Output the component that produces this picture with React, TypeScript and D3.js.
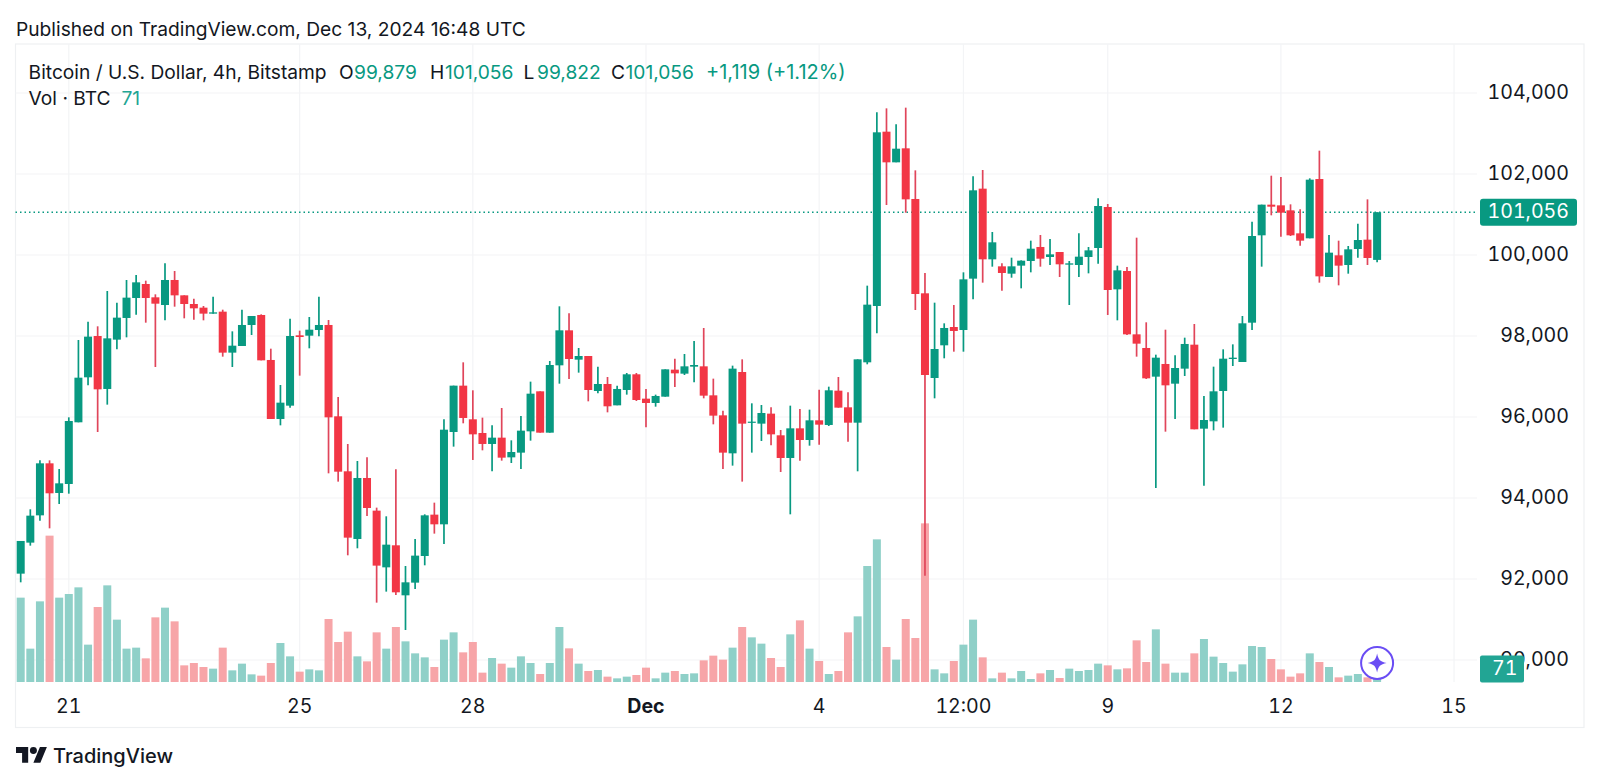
import React, { useEffect, useRef } from "react";
import * as d3 from "d3";

const opens = [
  92132, 92898, 93572, 94856, 94124, 94346, 95869, 96980, 98000, 96692,
  97910, 98445, 98938, 99284, 98955, 98765, 99383, 99004, 98790, 98700,
  98552, 98601, 97589, 97753, 98272, 98519, 97408, 95951, 96280, 98017,
  98008, 98148, 98272, 96017, 94659, 92988, 94494, 93688, 92288, 92832,
  91597, 91910, 92568, 93589, 93350, 95630, 96774, 95943, 95605, 95334,
  95490, 95004, 95120, 95646, 96634, 95613, 97276, 98140, 97416, 97506,
  96642, 96815, 96288, 96667, 97054, 96453, 96346, 96502, 97169, 97070,
  97243, 97251, 96535, 96041, 95103, 97111, 95860, 95836, 96083, 95548,
  94988, 95720, 95432, 95918, 95803, 96650, 96239, 95860, 97350, 98741,
  103045, 102288, 102634, 101383, 99054, 96963, 97770, 98222, 98148, 99416,
  101638, 99893, 99720, 99539, 99737, 99852, 100198, 99951, 100074, 99761,
  99753, 99951, 100173, 101185, 99152, 99605, 98041, 97704, 96996, 97309,
  96823, 97194, 97786, 95712, 95893, 96642, 97432, 97358, 98329, 100486,
  101243, 101226, 101103, 100535, 100412, 101876, 99457, 99992, 99753, 100148,
  100379, 99879,
];
const highs = [
  92939, 93721, 94930, 94930, 94716, 95992, 97901, 98354, 98239, 99111,
  98823, 99383, 99506, 99366, 99029, 99794, 99605, 99004, 98922, 98741,
  98971, 98650, 98115, 98650, 98494, 98535, 97687, 96790, 98428, 98132,
  98469, 98971, 98395, 96494, 95334, 94914, 95004, 93762, 93548, 94708,
  92321, 92988, 93597, 93885, 95943, 96774, 97350, 96659, 95984, 95794,
  96222, 95424, 96025, 96873, 96634, 97383, 98733, 98560, 97704, 97506,
  97243, 96988, 96774, 97087, 97087, 96692, 96552, 97177, 97440, 97556,
  97877, 98198, 96947, 96157, 97268, 97424, 96338, 96296, 96239, 95679,
  96280, 96198, 96181, 96675, 96749, 96988, 96609, 97424, 99243, 103522,
  103621, 103226, 103638, 102090, 99556, 98823, 98313, 98765, 99572, 101942,
  102099, 100568, 99794, 99934, 99868, 100354, 100494, 100395, 100074, 99852,
  100535, 100198, 101399, 101259, 99737, 99704, 100428, 98338, 97539, 98156,
  97523, 97959, 98296, 96519, 97243, 97671, 97794, 98494, 100823, 101243,
  101959, 101926, 101251, 101128, 101893, 102576, 100494, 100354, 100222, 100774,
  101374, 101056,
];
const lows = [
  91918, 92823, 93441, 93251, 93852, 94107, 95869, 96782, 95630, 96305,
  97671, 97967, 98527, 98329, 97235, 98387, 98724, 98436, 98403, 98387,
  98552, 97490, 97235, 97753, 98025, 97399, 95951, 95794, 96231, 97021,
  97696, 97992, 94609, 94404, 92585, 92758, 93556, 91416, 91688, 91605,
  90741, 91754, 92338, 93120, 92865, 95268, 95844, 94939, 95177, 94659,
  94922, 94864, 94716, 95416, 95613, 95613, 96823, 96938, 97095, 96387,
  96585, 96115, 96288, 96552, 96395, 95745, 96255, 96502, 96741, 97037,
  96856, 96461, 95819, 94716, 94799, 94404, 95120, 95408, 95301, 94642,
  93597, 94922, 95292, 95317, 95778, 96231, 95391, 94659, 97301, 98066,
  101235, 102288, 101045, 98642, 92083, 96461, 97449, 97613, 97613, 98905,
  99317, 99712, 99119, 99440, 99177, 99572, 99712, 99753, 99457, 98765,
  99457, 99547, 99786, 98519, 98387, 98025, 97490, 96938, 94247, 95638,
  95951, 97013, 95696, 94305, 95671, 95737, 97259, 97358, 98148, 99712,
  100979, 100453, 100469, 100230, 100412, 99317, 99457, 99251, 99539, 99934,
  99753, 99822,
];
const closes = [
  92939, 93564, 94856, 94116, 94362, 95901, 96971, 97984, 96683, 97942,
  98453, 98947, 99325, 98938, 98798, 99383, 99004, 98790, 98683, 98552,
  98584, 97589, 97761, 98272, 98494, 97399, 95951, 96354, 98000, 97975,
  98156, 98272, 95992, 94650, 93021, 94494, 93753, 92330, 92848, 91671,
  91918, 92577, 93572, 93350, 95687, 96774, 95976, 95572, 95334, 95490,
  94996, 95136, 95663, 96576, 95613, 97284, 98140, 97432, 97506, 96667,
  96815, 96264, 96692, 97054, 96420, 96346, 96519, 97177, 97078, 97251,
  97284, 96527, 96033, 95120, 97194, 95836, 95885, 96099, 95572, 94988,
  95720, 95432, 95918, 95811, 96659, 96231, 95860, 97424, 98774, 103029,
  102288, 102625, 101374, 99037, 97037, 97679, 98198, 98124, 99399, 101597,
  99893, 100313, 99556, 99720, 99860, 100156, 99909, 100016, 99770, 99794,
  99959, 100115, 101210, 99136, 99621, 98041, 97811, 96955, 97465, 96782,
  97210, 97803, 95696, 95926, 96634, 97440, 97465, 98313, 100469, 101243,
  101193, 101045, 100486, 100354, 101860, 99473, 100058, 99737, 100140, 100370,
  99926, 101056,
];
const volumes = [
  1687, 667, 1613, 2927, 1687, 1760, 1893, 747, 1500, 1933,
  1247, 667, 687, 473, 1293, 1487, 1213, 333, 380, 300,
  267, 687, 233, 367, 153, 127, 380, 780, 513, 207,
  253, 233, 1260, 800, 1007, 513, 413, 993, 667, 1100,
  813, 573, 493, 300, 847, 993, 593, 800, 187, 480,
  367, 287, 513, 380, 160, 380, 1100, 673, 367, 220,
  240, 107, 73, 107, 140, 287, 73, 187, 220, 160,
  173, 433, 527, 447, 687, 1100, 893, 767, 480, 300,
  953, 1233, 667, 420, 160, 220, 993, 1313, 2320, 2853,
  700, 447, 1260, 880, 3173, 253, 173, 420, 747, 1247,
  493, 73, 187, 73, 220, 60, 173, 240, 80, 267,
  220, 240, 367, 333, 253, 273, 833, 400, 1053, 367,
  187, 187, 573, 860, 507, 380, 207, 353, 720, 700,
  460, 253, 107, 173, 573, 400, 300, 93, 127, 160,
  93, 71,
];

const priceTicks = [104000, 102000, 100000, 98000, 96000, 94000, 92000, 90000];
const timeTicks = [
  { date: "2024-11-21T00:00:00Z", label: "21", bold: false },
  { date: "2024-11-25T00:00:00Z", label: "25", bold: false },
  { date: "2024-11-28T00:00:00Z", label: "28", bold: false },
  { date: "2024-12-01T00:00:00Z", label: "Dec", bold: true },
  { date: "2024-12-04T00:00:00Z", label: "4", bold: false },
  { date: "2024-12-06T12:00:00Z", label: "12:00", bold: false },
  { date: "2024-12-09T00:00:00Z", label: "9", bold: false },
  { date: "2024-12-12T00:00:00Z", label: "12", bold: false },
  { date: "2024-12-15T00:00:00Z", label: "15", bold: false },
];
const lastPrice = 101056;
const lastVolume = 71;
const firstBar = Date.UTC(2024, 10, 20, 4);
const barMs = 4 * 3600 * 1000;

const WIDTH = 1600;
const HEIGHT = 784;
const FONT = "Inter, 'Noto Sans', sans-serif";
const UP = "#089981";
const DOWN = "#f23645";
const TEXT = "#131722";
const GRID = "#f3f4f6";
const FRAME = { left: 15.5, right: 1584, top: 44, bottom: 727.5 };
const PLOT_RIGHT = 1477;
const BASE = 682;
const AXIS_SIZE = 19.6;

export default function App() {
  const svgRef = useRef<SVGSVGElement | null>(null);

  useEffect(() => {
    const svg = d3.select(svgRef.current);
    svg.selectAll("*").remove();

    const x = d3
      .scaleUtc()
      .domain([new Date(firstBar), new Date(firstBar + 141 * barMs)])
      .range([20.7, 1377.1]);
    const y = d3.scaleLinear().domain([90000, 104000]).range([660, 93]);
    const v = d3.scaleLinear().domain([0, 3200]).range([BASE, 522]);

    const bars = opens.map((o, i) => ({
      t: new Date(firstBar + i * barMs),
      o,
      h: highs[i],
      l: lows[i],
      c: closes[i],
      vol: volumes[i],
      up: closes[i] >= o,
    }));

    svg
      .append("rect")
      .attr("x", FRAME.left)
      .attr("y", FRAME.top)
      .attr("width", FRAME.right - FRAME.left)
      .attr("height", FRAME.bottom - FRAME.top)
      .attr("fill", "#fff")
      .attr("stroke", "#eef0f2")
      .attr("stroke-width", 1.2);

    // grid
    svg
      .append("g")
      .selectAll("line")
      .data(priceTicks)
      .join("line")
      .attr("x1", FRAME.left)
      .attr("x2", PLOT_RIGHT)
      .attr("y1", (d) => y(d))
      .attr("y2", (d) => y(d))
      .attr("stroke", GRID)
      .attr("stroke-width", 1.2);
    svg
      .append("g")
      .selectAll("line")
      .data(timeTicks)
      .join("line")
      .attr("x1", (d) => x(new Date(d.date)))
      .attr("x2", (d) => x(new Date(d.date)))
      .attr("y1", FRAME.top)
      .attr("y2", BASE)
      .attr("stroke", GRID)
      .attr("stroke-width", 1.2);

    // volume
    svg
      .append("g")
      .selectAll("rect")
      .data(bars)
      .join("rect")
      .attr("x", (d) => x(d.t) - 4)
      .attr("width", 8)
      .attr("y", (d) => v(d.vol))
      .attr("height", (d) => BASE - v(d.vol))
      .attr("fill", (d) => (d.up ? "#8fd0c8" : "#f7a5a8"));

    // last price line
    svg
      .append("line")
      .attr("x1", FRAME.left)
      .attr("x2", PLOT_RIGHT)
      .attr("y1", y(lastPrice))
      .attr("y2", y(lastPrice))
      .attr("stroke", UP)
      .attr("stroke-width", 1.5)
      .attr("stroke-dasharray", "1.5 3");

    // candles
    const candles = svg.append("g").selectAll("g").data(bars).join("g");
    candles
      .append("line")
      .attr("x1", (d) => x(d.t))
      .attr("x2", (d) => x(d.t))
      .attr("y1", (d) => y(d.h))
      .attr("y2", (d) => y(d.l))
      .attr("stroke", (d) => (d.up ? UP : "#e0455a"))
      .attr("stroke-width", 1.7);
    candles
      .append("rect")
      .attr("x", (d) => x(d.t) - 4)
      .attr("width", 8)
      .attr("y", (d) => y(Math.max(d.o, d.c)))
      .attr("height", (d) => Math.max(1.2, Math.abs(y(d.o) - y(d.c))))
      .attr("fill", (d) => (d.up ? UP : DOWN));

    // price axis
    svg
      .append("g")
      .selectAll("text")
      .data(priceTicks)
      .join("text")
      .attr("x", 1569)
      .attr("y", (d) => y(d) - 1.5)
      .attr("text-anchor", "end")
      .attr("dominant-baseline", "central")
      .attr("font-family", FONT)
      .attr("font-size", AXIS_SIZE)
      .style("font-feature-settings", "'tnum'")
      .attr("fill", TEXT)
      .text((d) => d3.format(",")(d));

    // time axis
    svg
      .append("g")
      .selectAll("text")
      .data(timeTicks)
      .join("text")
      .attr("x", (d) => x(new Date(d.date)))
      .attr("y", 706)
      .attr("text-anchor", "middle")
      .attr("dominant-baseline", "central")
      .attr("font-family", FONT)
      .attr("font-size", AXIS_SIZE)
      .style("font-feature-settings", "'tnum'")
      .attr("font-weight", (d) => (d.bold ? 700 : 400))
      .attr("fill", TEXT)
      .text((d) => d.label);

    // last price + volume badges
    svg
      .append("rect")
      .attr("x", 1480)
      .attr("y", y(lastPrice) - 13.5)
      .attr("width", 97)
      .attr("height", 27)
      .attr("rx", 3)
      .attr("fill", UP);
    svg
      .append("text")
      .attr("x", 1569)
      .attr("y", y(lastPrice) - 1)
      .attr("text-anchor", "end")
      .attr("dominant-baseline", "central")
      .attr("font-family", FONT)
      .attr("font-size", AXIS_SIZE)
      .style("font-feature-settings", "'tnum'")
      .attr("fill", "#fff")
      .text(d3.format(",")(lastPrice));
    svg
      .append("rect")
      .attr("x", 1480)
      .attr("y", 655.5)
      .attr("width", 44)
      .attr("height", 27)
      .attr("rx", 2)
      .attr("fill", "#22a594");
    svg
      .append("text")
      .attr("x", 1492)
      .attr("y", 668)
      .attr("dominant-baseline", "central")
      .attr("font-family", FONT)
      .attr("font-size", AXIS_SIZE)
      .style("font-feature-settings", "'tnum'")
      .attr("fill", "#fff")
      .text(lastVolume);

    // sparkle marker
    const mark = svg
      .append("g")
      .attr("transform", `translate(${x(new Date(firstBar + 141 * barMs))},663)`);
    mark
      .append("circle")
      .attr("r", 16)
      .attr("fill", "#fff")
      .attr("stroke", "#6a4df4")
      .attr("stroke-width", 2);
    mark
      .append("path")
      .attr("d", "M0,-9.5C1.4,-3 3,-1.4 9.5,0C3,1.4 1.4,3 0,9.5C-1.4,3 -3,1.4 -9.5,0C-3,-1.4 -1.4,-3 0,-9.5Z")
      .attr("fill", "#6a4df4");

    // header + legend
    const label = (tx: number, ty: number, s: string, fill: string, size = 19.2) =>
      svg
        .append("text")
        .attr("x", tx)
        .attr("y", ty)
        .attr("dominant-baseline", "central")
        .attr("font-family", FONT)
        .attr("font-size", size)
        .attr("fill", fill)
        .text(s);

    label(16, 28.5, "Published on TradingView.com, Dec 13, 2024 16:48 UTC", TEXT);
    label(28.6, 72, "Bitcoin / U.S. Dollar, 4h, Bitstamp", TEXT);
    label(339, 72, "O", TEXT);
    label(354, 72, "99,879", UP);
    label(430, 72, "H", TEXT);
    label(445, 72, "101,056", UP);
    label(523.5, 72, "L", TEXT);
    label(537, 72, "99,822", UP);
    label(611, 72, "C", TEXT);
    label(625.5, 72, "101,056", UP);
    label(706, 72, "+1,119 (+1.12%)", UP, 20);
    label(28.6, 98, "Vol · BTC", TEXT);
    label(121.4, 98, "71", "#22a594");

    // logo
    const logo = svg
      .append("g")
      .attr("transform", "translate(16,747) scale(0.87)")
      .attr("fill", TEXT);
    logo.append("path").attr("d", "M14 18H7V7H0V0h14v18zM28 18h-8l7.5-18h8L28 18z");
    logo.append("circle").attr("cx", 20).attr("cy", 4).attr("r", 4);
    label(53, 755.5, "TradingView", TEXT, 20).attr("font-weight", 500);
  }, []);

  return (
    <svg
      ref={svgRef}
      width={WIDTH}
      height={HEIGHT}
      style={{ position: "absolute", left: 0, top: 0, background: "#fff" }}
    />
  );
}
